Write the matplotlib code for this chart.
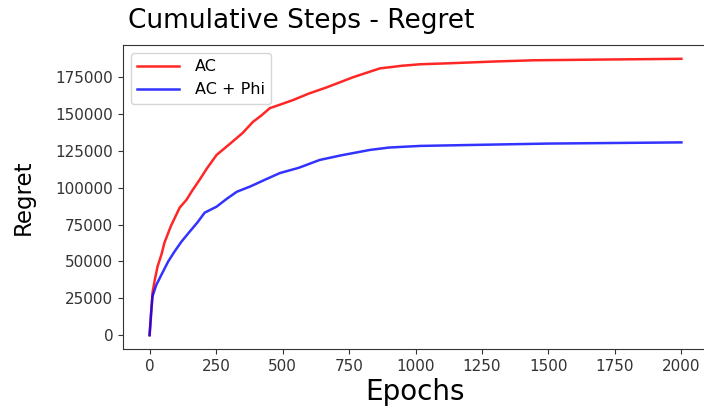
import matplotlib
matplotlib.use('Agg')
import matplotlib.pyplot as plt

# values
ac_epochs = [0, 5, 11, 20, 30, 45, 56, 80, 113, 139, 160, 188, 215, 252, 300, 350,
             388, 420, 452, 500, 539, 600, 667, 765, 866, 950, 1017, 1130, 1300,
             1443, 1700, 2000]
ac_regret = [0, 12000, 29000, 38000, 46600, 55000, 62800, 74000, 86500, 91900,
             98000, 105400, 113000, 122300, 129500, 137200, 144600, 149000,
             154000, 157000, 159500, 164000, 168200, 175000, 181000, 182800,
             183800, 184500, 185700, 186500, 187000, 187500]

phi_epochs = [0, 5, 11, 25, 49, 70, 94, 120, 151, 180, 207, 252, 290, 328, 380,
              433, 490, 560, 640, 720, 829, 900, 1017, 1194, 1500, 2000]
phi_regret = [0, 14000, 26400, 34000, 42600, 50000, 56800, 63500, 70300, 76500,
              83100, 87200, 92500, 97300, 101000, 105400, 110000, 113500, 118900,
              122000, 125700, 127300, 128400, 129000, 130000, 130800]

fig = plt.figure(figsize=(7.04, 4.07), dpi=100)
ax = fig.add_axes([123 / 704, 1 - 349 / 407, (708 - 123) / 704, (349 - 45) / 407])

ax.plot(ac_epochs, ac_regret, color='red', alpha=0.85, lw=1.8, label='AC')
ax.plot(phi_epochs, phi_regret, color='blue', alpha=0.8, lw=1.8, label='AC + Phi')

ax.set_xticks(range(0, 2001, 250))
ax.set_yticks(range(0, 175001, 25000))
ax.tick_params(labelsize=11, colors='#333333')
for s in ax.spines.values():
    s.set_color('#333333')

ax.set_title('Cumulative Steps - Regret', fontsize=19, x=0.304, pad=12)
ax.set_xlabel('Epochs', fontsize=20, labelpad=3)
ax.set_ylabel('Regret', fontsize=16.5, labelpad=15)
ax.legend(loc='upper left', fontsize=11.5, handlelength=2.6, handletextpad=1.0,
          borderaxespad=0.5)

fig.savefig('out.png', dpi=100)
